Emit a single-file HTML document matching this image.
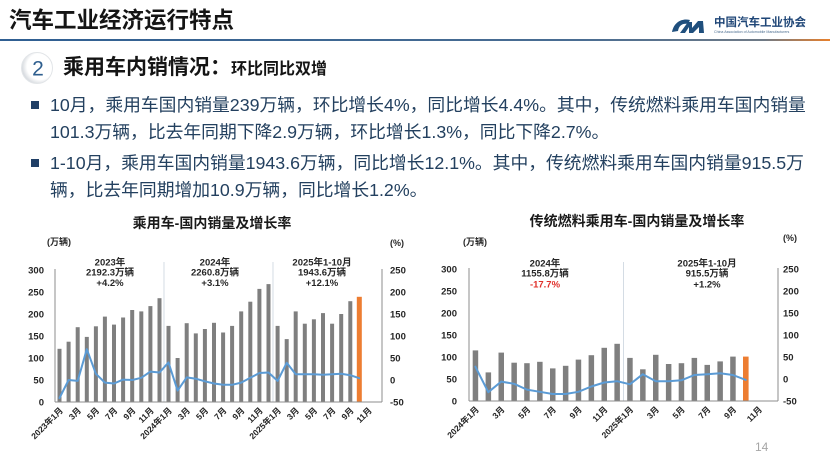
<!DOCTYPE html>
<html><head><meta charset="utf-8">
<style>
html,body{margin:0;padding:0;background:#fff;}
body{width:830px;height:468px;position:relative;overflow:hidden;font-family:"Liberation Sans","Noto Sans CJK SC",sans-serif;}
.abs{position:absolute;white-space:nowrap;}
.t1{left:9px;top:7px;font-size:22.5px;font-weight:bold;color:#151515;line-height:28px;}
.bar{position:absolute;left:0;top:39px;width:830px;height:2px;background:linear-gradient(90deg,#2f5f92 0%,#4a6d92 70%,#6f7a86 92%,#e8802c 100%);}
.h2{left:63px;top:55px;line-height:26px;color:#141414;font-weight:bold;}
.bl{font-size:17.8px;color:#23405f;line-height:20px;}
.sq{position:absolute;width:8px;height:8px;background:#203f66;}
</style></head>
<body>
<div class="abs t1">汽车工业经济运行特点</div>
<div class="bar"></div>
<!-- logo -->
<svg class="abs" style="left:668px;top:10px" width="150" height="30" viewBox="0 0 150 30">
  <path d="M4 22 C6 12 14 8 22 10 L20 14 C15 13 11 15 10 21 Z" fill="#1f4f7d"/>
  <path d="M12 23 L20 12 L24 12 L24 18 L30 11 L35 11 L36 23 L31 23 L31 17 L25 23 L21 23 L21 17 L17 23 Z" fill="#1f4f7d"/>
  <text x="46" y="16" font-size="11.5" font-weight="bold" fill="#1f4677" font-family="Liberation Sans,Noto Sans CJK SC,sans-serif">中国汽车工业协会</text>
  <text x="46" y="23" font-size="3.6" fill="#4a6c8f" font-family="Liberation Sans,sans-serif">China Association of Automobile Manufacturers</text>
</svg>
<!-- circle 2 -->
<svg class="abs" style="left:20px;top:51px" width="36" height="36">
  <defs><radialGradient id="cg" cx="0.6" cy="0.45" r="0.6"><stop offset="0.7" stop-color="#ffffff"/><stop offset="1" stop-color="#d4d8dd"/></radialGradient></defs>
  <circle cx="17" cy="17" r="15.5" fill="url(#cg)" stroke="#e2e5e8" stroke-width="1"/>
  <text x="18" y="24.5" font-size="21" text-anchor="middle" fill="#2e5e8e" font-family="Liberation Sans,sans-serif">2</text>
</svg>
<div class="abs h2"><span style="font-size:21px">乘用车内销情况：</span><span style="font-size:16px">环比同比双增</span></div>

<div class="sq" style="left:31px;top:101px"></div>
<div class="abs bl" style="left:50px;top:95px">10月，乘用车国内销量239万辆，环比增长4%，同比增长4.4%。其中，传统燃料乘用车国内销量</div>
<div class="abs bl" style="left:50px;top:122px">101.3万辆，比去年同期下降2.9万辆，环比增长1.3%，同比下降2.7%。</div>
<div class="sq" style="left:31px;top:159px"></div>
<div class="abs bl" style="left:50px;top:153px">1-10月，乘用车国内销量1943.6万辆，同比增长12.1%。其中，传统燃料乘用车国内销量915.5万</div>
<div class="abs bl" style="left:50px;top:180px">辆，比去年同期增加10.9万辆，同比增长1.2%。</div>

<svg class="abs" style="left:0;top:0" width="830" height="468" viewBox="0 0 830 468" font-family="Liberation Sans,Noto Sans CJK SC,sans-serif">
<!-- ===== LEFT CHART ===== -->
<text x="212" y="228" font-size="14" font-weight="bold" text-anchor="middle" fill="#1a1a1a">乘用车-国内销量及增长率</text>
<text x="47" y="245" font-size="9" font-weight="bold" fill="#262626">(万辆)</text>
<text x="390" y="246" font-size="9" font-weight="bold" fill="#262626">(%)</text>
<g font-size="9.5" font-weight="bold" fill="#262626" text-anchor="end">
<text x="44" y="273.5">300</text>
<text x="44" y="295.5">250</text><text x="44" y="317.5">200</text><text x="44" y="339.5">150</text>
<text x="44" y="361.5">100</text><text x="44" y="383.5">50</text><text x="44" y="405.5">0</text>
</g>
<g font-size="9.5" font-weight="bold" fill="#262626">
<text x="390" y="273.5">250</text><text x="390" y="295.5">200</text><text x="390" y="317.5">150</text>
<text x="390" y="339.5">100</text><text x="390" y="361.5">50</text><text x="390" y="383.5">0</text><text x="390" y="405.5">-50</text>
</g>
<line x1="164" y1="262" x2="164" y2="402" stroke="#c9d3dd" stroke-width="0.8"/>
<line x1="273" y1="262" x2="273" y2="402" stroke="#c9d3dd" stroke-width="0.8"/>
<g fill="#7f7f7f">
<rect x="57.5" y="348.8" width="4" height="53.2"/>
<rect x="66.6" y="341.7" width="4" height="60.3"/>
<rect x="75.7" y="327.2" width="4" height="74.8"/>
<rect x="84.8" y="336.9" width="4" height="65.1"/>
<rect x="93.9" y="326.3" width="4" height="75.7"/>
<rect x="102.9" y="316.6" width="4" height="85.4"/>
<rect x="112.0" y="324.6" width="4" height="77.4"/>
<rect x="121.1" y="317.5" width="4" height="84.5"/>
<rect x="130.2" y="310.0" width="4" height="92.0"/>
<rect x="139.3" y="311.4" width="4" height="90.6"/>
<rect x="148.4" y="306.1" width="4" height="95.9"/>
<rect x="157.5" y="298.2" width="4" height="103.8"/>
<rect x="166.5" y="325.9" width="4" height="76.1"/>
<rect x="175.6" y="358.0" width="4" height="44.0"/>
<rect x="184.7" y="323.2" width="4" height="78.8"/>
<rect x="193.8" y="333.4" width="4" height="68.6"/>
<rect x="202.9" y="329.0" width="4" height="73.0"/>
<rect x="212.0" y="322.8" width="4" height="79.2"/>
<rect x="221.1" y="332.5" width="4" height="69.5"/>
<rect x="230.1" y="325.9" width="4" height="76.1"/>
<rect x="239.2" y="311.4" width="4" height="90.6"/>
<rect x="248.3" y="301.7" width="4" height="100.3"/>
<rect x="257.4" y="288.9" width="4" height="113.1"/>
<rect x="266.5" y="284.1" width="4" height="117.9"/>
<rect x="275.6" y="325.9" width="4" height="76.1"/>
<rect x="284.7" y="339.1" width="4" height="62.9"/>
<rect x="293.7" y="311.4" width="4" height="90.6"/>
<rect x="302.8" y="323.7" width="4" height="78.3"/>
<rect x="311.9" y="319.3" width="4" height="82.7"/>
<rect x="321.0" y="313.1" width="4" height="88.9"/>
<rect x="330.1" y="323.7" width="4" height="78.3"/>
<rect x="339.2" y="314.0" width="4" height="88.0"/>
<rect x="348.3" y="301.2" width="4" height="100.8"/>
</g>
<rect x="356.8" y="296.8" width="5" height="105.2" fill="#ed7d31"/>
<polyline fill="none" stroke="#5b9bd5" stroke-width="2" stroke-linejoin="round" stroke-linecap="round" points="59.5,398 68.6,380 77.7,380.9 86.8,349.2 95.9,373.8 104.9,382.6 114,383.5 123.1,379.6 132.2,380 141.3,377.8 150.4,371.6 159.5,372.5 168.5,362.4 177.6,390.6 186.7,377.4 195.8,378.7 204.9,381.3 214,383.5 223.1,384.8 232.1,384.8 241.2,382.6 250.3,377.8 259.4,373 268.5,372.5 277.6,380.9 286.7,362.8 295.7,374.3 304.8,374.3 313.9,374.3 323,374.7 332.1,374.3 341.2,373.8 350.3,375.2 359.3,378.2"/>
<g stroke="#8c8c8c" stroke-width="1" fill="none">
<line x1="55" y1="269" x2="55" y2="402"/>
<line x1="55" y1="402" x2="382" y2="402"/>
<line x1="382" y1="269" x2="382" y2="402"/>
</g>
<g font-size="9.5" font-weight="bold" fill="#262626" text-anchor="middle">
<text x="110" y="265.5">2023年</text><text x="110" y="275.5">2192.3万辆</text><text x="110" y="286">+4.2%</text>
<text x="215" y="265.5">2024年</text><text x="215" y="275.5">2260.8万辆</text><text x="215" y="286">+3.1%</text>
<text x="322" y="265.5">2025年1-10月</text><text x="322" y="275.5">1943.6万辆</text><text x="322" y="286">+12.1%</text>
</g>
<g font-size="8.5" font-weight="bold" fill="#262626" text-anchor="end">
<text transform="translate(63.5,411) rotate(-45)">2023年1月</text>
<text transform="translate(81.7,411) rotate(-45)">3月</text>
<text transform="translate(99.9,411) rotate(-45)">5月</text>
<text transform="translate(118,411) rotate(-45)">7月</text>
<text transform="translate(136.2,411) rotate(-45)">9月</text>
<text transform="translate(154.4,411) rotate(-45)">11月</text>
<text transform="translate(172.5,411) rotate(-45)">2024年1月</text>
<text transform="translate(190.7,411) rotate(-45)">3月</text>
<text transform="translate(208.9,411) rotate(-45)">5月</text>
<text transform="translate(227.1,411) rotate(-45)">7月</text>
<text transform="translate(245.2,411) rotate(-45)">9月</text>
<text transform="translate(263.4,411) rotate(-45)">11月</text>
<text transform="translate(281.6,411) rotate(-45)">2025年1月</text>
<text transform="translate(299.7,411) rotate(-45)">3月</text>
<text transform="translate(317.9,411) rotate(-45)">5月</text>
<text transform="translate(336.1,411) rotate(-45)">7月</text>
<text transform="translate(354.3,411) rotate(-45)">9月</text>
<text transform="translate(372.4,411) rotate(-45)">11月</text>
</g>

<!-- ===== RIGHT CHART ===== -->
<text x="637" y="226" font-size="14" font-weight="bold" text-anchor="middle" fill="#1a1a1a">传统燃料乘用车-国内销量及增长率</text>
<text x="463" y="245" font-size="9" font-weight="bold" fill="#262626">(万辆)</text>
<text x="783" y="241" font-size="9" font-weight="bold" fill="#262626">(%)</text>
<g font-size="9.5" font-weight="bold" fill="#262626" text-anchor="end">
<text x="457" y="272.5">300</text><text x="457" y="294.5">250</text><text x="457" y="316.5">200</text>
<text x="457" y="338.5">150</text><text x="457" y="360.5">100</text><text x="457" y="382.5">50</text><text x="457" y="404.5">0</text>
</g>
<g font-size="9.5" font-weight="bold" fill="#262626">
<text x="783" y="272.5">250</text><text x="783" y="294.5">200</text><text x="783" y="316.5">150</text>
<text x="783" y="338.5">100</text><text x="783" y="360.5">50</text><text x="783" y="382.5">0</text><text x="783" y="404.5">-50</text>
</g>
<line x1="623.5" y1="262" x2="623.5" y2="401" stroke="#c9d3dd" stroke-width="0.8"/>
<g fill="#7f7f7f">
<rect x="472.7" y="350.4" width="5.5" height="50.6"/>
<rect x="485.6" y="372.4" width="5.5" height="28.6"/>
<rect x="498.5" y="352.6" width="5.5" height="48.4"/>
<rect x="511.4" y="362.7" width="5.5" height="38.3"/>
<rect x="524.2" y="363.2" width="5.5" height="37.8"/>
<rect x="537.1" y="361.8" width="5.5" height="39.2"/>
<rect x="550.0" y="368.4" width="5.5" height="32.6"/>
<rect x="562.9" y="365.8" width="5.5" height="35.2"/>
<rect x="575.7" y="359.6" width="5.5" height="41.4"/>
<rect x="588.6" y="355.2" width="5.5" height="45.8"/>
<rect x="601.5" y="347.8" width="5.5" height="53.2"/>
<rect x="614.4" y="343.8" width="5.5" height="57.2"/>
<rect x="627.2" y="357.9" width="5.5" height="43.1"/>
<rect x="640.1" y="369.3" width="5.5" height="31.7"/>
<rect x="653.0" y="354.8" width="5.5" height="46.2"/>
<rect x="665.9" y="364.0" width="5.5" height="37.0"/>
<rect x="678.7" y="363.2" width="5.5" height="37.8"/>
<rect x="691.6" y="357.9" width="5.5" height="43.1"/>
<rect x="704.5" y="364.9" width="5.5" height="36.1"/>
<rect x="717.4" y="361.4" width="5.5" height="39.6"/>
<rect x="730.2" y="356.6" width="5.5" height="44.4"/>
</g>
<rect x="743.0" y="356.6" width="5.6" height="44.4" fill="#ed7d31"/>
<polyline fill="none" stroke="#5b9bd5" stroke-width="2" stroke-linejoin="round" stroke-linecap="round" points="475.4,366.7 488.3,392.2 501.2,381.6 514.1,383.8 526.9,389.6 539.8,391.8 552.7,394 565.6,394 578.4,391.8 591.3,386.5 604.2,382.5 617.1,381.2 629.9,384.3 642.8,374.2 655.7,381.2 668.6,381.2 681.4,380.3 694.3,375 707.2,374.2 720.1,373.3 732.9,375 745.8,379.9"/>
<g stroke="#8c8c8c" stroke-width="1" fill="none">
<line x1="469" y1="268" x2="469" y2="401"/>
<line x1="469" y1="401" x2="778" y2="401"/>
<line x1="778" y1="268" x2="778" y2="401"/>
</g>
<g font-size="9.5" font-weight="bold" text-anchor="middle">
<text x="545" y="266.5" fill="#262626">2024年</text><text x="545" y="276.5" fill="#262626">1155.8万辆</text><text x="545" y="287.5" fill="#e0302a">-17.7%</text>
<text x="707" y="266.5" fill="#262626">2025年1-10月</text><text x="707" y="276.5" fill="#262626">915.5万辆</text><text x="707" y="287.5" fill="#262626">+1.2%</text>
</g>
<g font-size="8.5" font-weight="bold" fill="#262626" text-anchor="end">
<text transform="translate(479.5,410) rotate(-45)">2024年1月</text>
<text transform="translate(505.2,410) rotate(-45)">3月</text>
<text transform="translate(531,410) rotate(-45)">5月</text>
<text transform="translate(556.7,410) rotate(-45)">7月</text>
<text transform="translate(582.4,410) rotate(-45)">9月</text>
<text transform="translate(608.2,410) rotate(-45)">11月</text>
<text transform="translate(633.9,410) rotate(-45)">2025年1月</text>
<text transform="translate(659.7,410) rotate(-45)">3月</text>
<text transform="translate(685.4,410) rotate(-45)">5月</text>
<text transform="translate(711.2,410) rotate(-45)">7月</text>
<text transform="translate(736.9,410) rotate(-45)">9月</text>
<text transform="translate(762.7,410) rotate(-45)">11月</text>
</g>
<text x="755" y="451" font-size="12" fill="#a6a6a6">14</text>
</svg>
</body></html>
